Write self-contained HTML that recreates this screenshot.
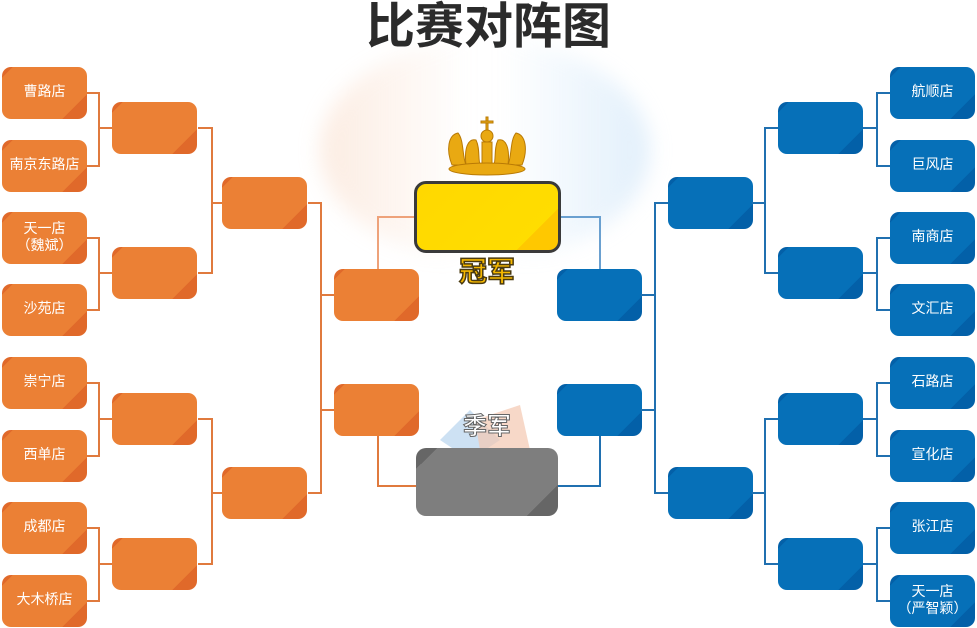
<!DOCTYPE html>
<html><head><meta charset="utf-8"><style>
body{margin:0;width:977px;height:628px;background:#fff;position:relative;overflow:hidden;font-family:"Liberation Sans","Noto Sans CJK SC",sans-serif}
.b{position:absolute;width:85px;height:52px;border-radius:9px;color:#fff;font-size:14px;display:flex;align-items:center;justify-content:center;text-align:center;line-height:17px;overflow:hidden;padding-bottom:3px;box-sizing:border-box}
.o{background:linear-gradient(135deg,#e0692a 0,#e0692a 8%,#eb8035 8%,#eb8035 82%,#e0692a 82%)}
.u{background:linear-gradient(135deg,#0360a8 0,#0360a8 8%,#0670b8 8%,#0670b8 82%,#0360a8 82%)}
.l{position:absolute}
.t{position:absolute;left:0;width:977px;text-align:center;top:-2px;font-size:49px;font-weight:bold;color:#2b2b2b;line-height:58px}
</style></head><body>
<div style="position:absolute;left:320px;top:40px;width:330px;height:220px;background:linear-gradient(90deg,rgba(246,200,170,.35),rgba(255,255,255,0) 45%,rgba(255,255,255,0) 55%,rgba(180,215,245,.4));border-radius:50%;filter:blur(10px)"></div>
<div class="t">比赛对阵图</div>
<div class="b o" style="left:2px;top:67px">曹路店</div>
<div class="b o" style="left:2px;top:140px">南京东路店</div>
<div class="b o" style="left:2px;top:212px">天一店<br>（魏斌）</div>
<div class="b o" style="left:2px;top:284px">沙苑店</div>
<div class="b o" style="left:2px;top:357px">崇宁店</div>
<div class="b o" style="left:2px;top:430px">西单店</div>
<div class="b o" style="left:2px;top:502px">成都店</div>
<div class="b o" style="left:2px;top:575px">大木桥店</div>
<div class="b o" style="left:112px;top:102px"></div>
<div class="b o" style="left:112px;top:247px"></div>
<div class="b o" style="left:112px;top:393px"></div>
<div class="b o" style="left:112px;top:538px"></div>
<div class="b o" style="left:222px;top:177px"></div>
<div class="b o" style="left:222px;top:467px"></div>
<div class="b o" style="left:334px;top:269px"></div>
<div class="b o" style="left:334px;top:384px"></div>
<div class="b u" style="left:890px;top:67px">航顺店</div>
<div class="b u" style="left:890px;top:140px">巨风店</div>
<div class="b u" style="left:890px;top:212px">南商店</div>
<div class="b u" style="left:890px;top:284px">文汇店</div>
<div class="b u" style="left:890px;top:357px">石路店</div>
<div class="b u" style="left:890px;top:430px">宣化店</div>
<div class="b u" style="left:890px;top:502px">张江店</div>
<div class="b u" style="left:890px;top:575px">天一店<br>（严智颖）</div>
<div class="b u" style="left:778px;top:102px"></div>
<div class="b u" style="left:778px;top:247px"></div>
<div class="b u" style="left:778px;top:393px"></div>
<div class="b u" style="left:778px;top:538px"></div>
<div class="b u" style="left:668px;top:177px"></div>
<div class="b u" style="left:668px;top:467px"></div>
<div class="b u" style="left:557px;top:269px"></div>
<div class="b u" style="left:557px;top:384px"></div>
<svg class="l" style="left:0;top:0" width="977" height="628">
<g stroke="#e07a3e" stroke-width="2" fill="none">
<path d="M87 93H99V166H87M99 128H112M87 238H99V310H87M99 273H112M87 383H99V456H87M99 419H112M87 528H99V601H87M99 564H112"/>
<path d="M198 128H212V273H198M212 203H222M198 419H212V564H198M212 493H222"/>
<path d="M308 203H321V493H308M321 295H334M321 410H334"/>
<path d="M378 269V217H414" stroke="#eea27a"/>
<path d="M378 436V486H416"/>
</g>
<g stroke="#2070b0" stroke-width="2" fill="none">
<path d="M890 93H877V166H890M877 128H863M890 238H877V310H890M877 273H863M890 383H877V456H890M877 419H863M890 528H877V601H890M877 564H863"/>
<path d="M778 128H765V273H778M765 203H752M778 419H765V564H778M765 493H752"/>
<path d="M668 203H655V493H668M655 295H641M655 410H641"/>
<path d="M600 269V217H560" stroke="#6aa0d0"/>
<path d="M600 436V486H558"/>
</g>
<polygon points="440,440 470,410 500,440 470,460" fill="#b8d4ee" opacity=".7"/>
<polygon points="475,420 520,405 530,450 480,450" fill="#f3c8b0" opacity=".7"/>
<g fill="#e9a912" stroke="#b97a05" stroke-width="1">
<rect x="486" y="117" width="2" height="14"/><rect x="481" y="121" width="12" height="2"/>
<circle cx="487" cy="136" r="6"/>
<path d="M452 165 C446 150 448 135 458 133 C464 140 462 155 466 165Z"/>
<path d="M522 165 C528 150 526 135 516 133 C510 140 512 155 508 165Z"/>
<path d="M466 165 C464 148 468 138 476 140 C480 148 478 158 480 165Z"/>
<path d="M508 165 C510 148 506 138 498 140 C494 148 496 158 494 165Z"/>
<rect x="482" y="142" width="10" height="24"/>
<ellipse cx="487" cy="169" rx="38" ry="6"/>
</g>
</svg>
<div style="position:absolute;left:414px;top:181px;width:141px;height:66px;border:3px solid #3a3a3a;border-radius:12px;background:linear-gradient(135deg,#ffd800 0,#ffdd00 80%,#ffc800 80%)"></div>
<div style="position:absolute;left:416px;top:448px;width:142px;height:68px;border-radius:10px;background:linear-gradient(135deg,#666 0,#666 10%,#7e7e7e 10%,#7e7e7e 85%,#666 85%)"></div>
<div style="position:absolute;left:437px;top:254px;width:100px;text-align:center;font-size:28px;font-weight:bold;color:#f6b800;-webkit-text-stroke:1.5px #4a3a10;line-height:36px">冠军</div>
<div style="position:absolute;left:437px;top:410px;width:100px;text-align:center;font-size:24px;font-weight:bold;color:#fff;-webkit-text-stroke:1px #666;line-height:34px">季军</div>
</body></html>
